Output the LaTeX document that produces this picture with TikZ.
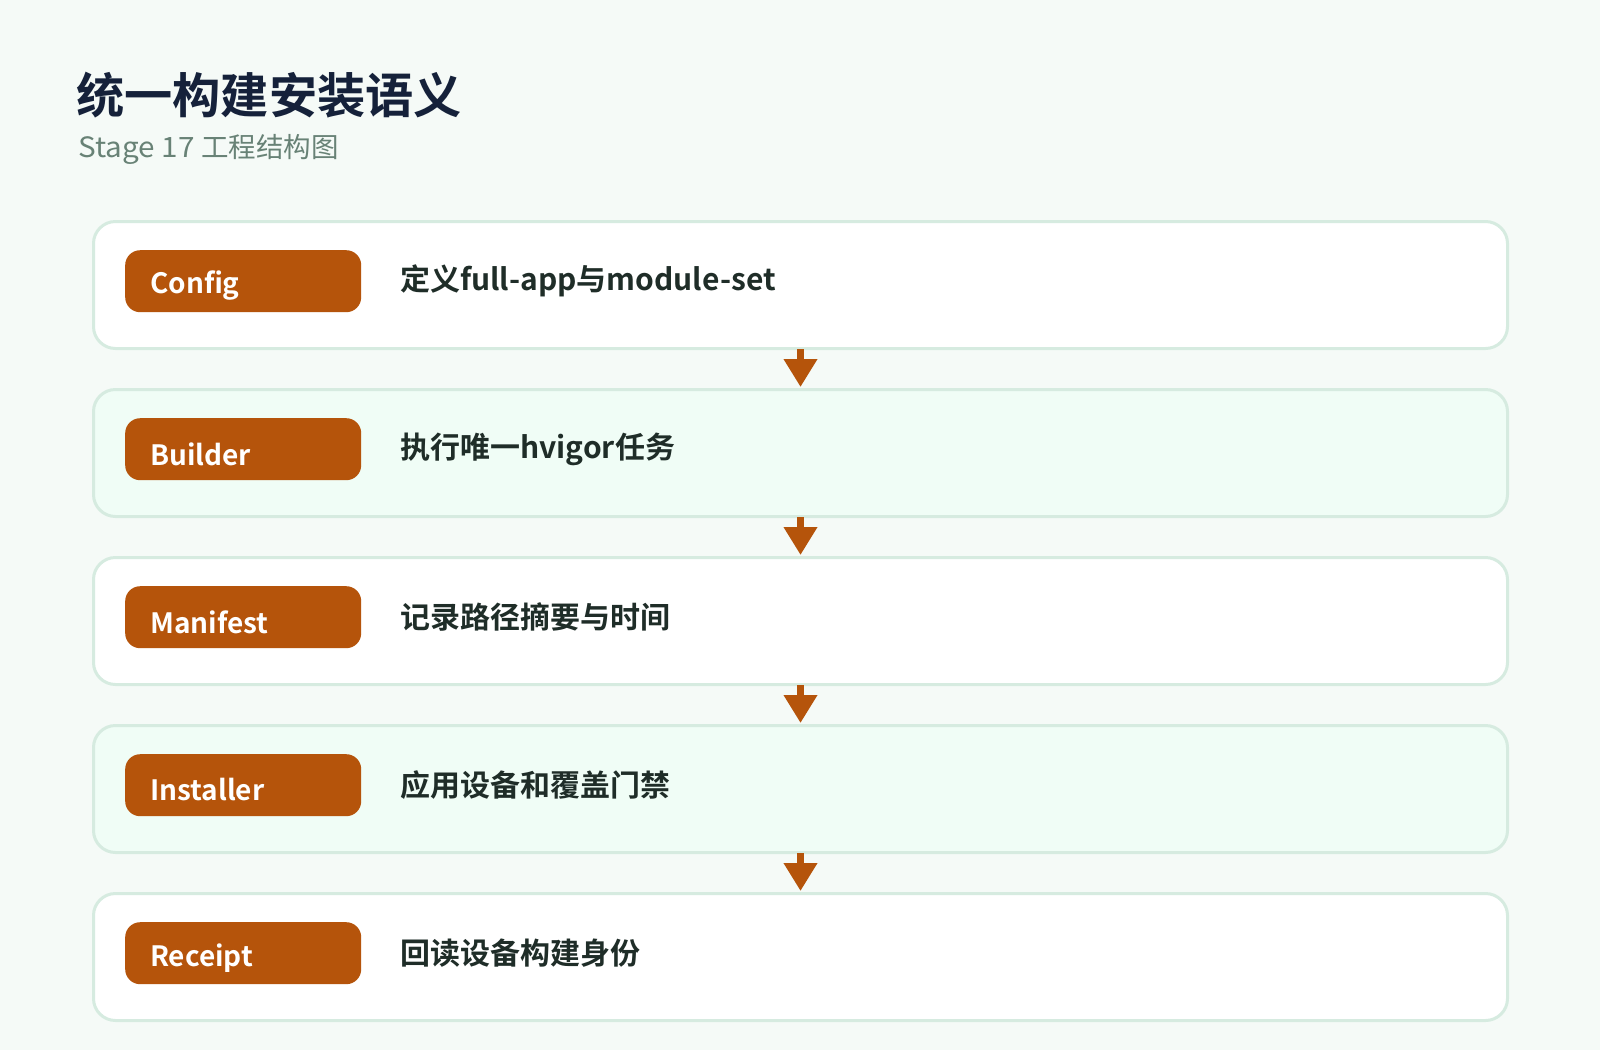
\documentclass[tikz,border=0pt]{standalone}
\usepackage{fontspec}
\setmainfont{Noto Sans CJK SC}
\newfontfamily\cjkbold{Noto Sans CJK SC Bold}
\newfontfamily\cjkreg{Noto Sans CJK SC}
\newfontfamily\latwide[FakeStretch=1.06]{Noto Sans CJK SC}
\usetikzlibrary{arrows.meta}
\definecolor{bgc}{HTML}{F5FAF7}
\definecolor{borderc}{HTML}{D6EBE0}
\definecolor{mintc}{HTML}{F0FDF6}
\definecolor{tagc}{HTML}{B5540B}
\definecolor{textc}{HTML}{1F2D28}
\definecolor{titlec}{HTML}{15213A}
\definecolor{subc}{HTML}{688276}
\tikzset{
  stagebox/.style={draw=borderc, line width=3pt, rounded corners=22pt, minimum width=1414pt, minimum height=127pt, inner sep=0pt, anchor=north west},
  tagbox/.style={fill=tagc, rounded corners=15pt, minimum width=236pt, minimum height=62pt, inner sep=0pt, anchor=north west},
  tagtext/.style={anchor=west, inner sep=0pt, text=white, font=\cjkbold\fontsize{28}{33}\selectfont},
  desctext/.style={anchor=west, inner sep=0pt, text=textc, font=\cjkbold\fontsize{30}{36}\selectfont},
  flowarrow/.style={draw=tagc, line width=7pt, -{Triangle[width=32pt,length=28pt]}, shorten <=-1pt, shorten >=1pt}
}
\begin{document}
\begin{tikzpicture}[x=1pt,y=-1pt]
\fill[bgc] (0,0) rectangle (1600,1050);
\useasboundingbox (0,0) rectangle (1600,1050);
\node[anchor=west, inner sep=0pt, text=titlec, font=\cjkbold\fontsize{48.2}{56}\selectfont] (title) at (76,95) {统一构建安装语义};
\node[anchor=west, inner sep=0pt, text=subc, font=\cjkreg\fontsize{27.5}{32}\selectfont] (subtitle) at (78,149) {{\latwide\fontsize{28}{32}\selectfont Stage 17 }工程结构图};
% boxes
\node[stagebox, fill=white] (b1) at (92,220) {};
\node[stagebox, fill=mintc] (b2) at (92,388) {};
\node[stagebox, fill=white] (b3) at (92,556) {};
\node[stagebox, fill=mintc] (b4) at (92,724) {};
\node[stagebox, fill=white] (b5) at (92,892) {};
% tags
\node[tagbox] (t1) at (125,250) {};
\node[tagbox] (t2) at (125,418) {};
\node[tagbox] (t3) at (125,586) {};
\node[tagbox] (t4) at (125,754) {};
\node[tagbox] (t5) at (125,922) {};
\node[tagtext] (l1) at (150,286) {Config};
\node[tagtext] (l2) at (150,454) {Builder};
\node[tagtext] (l3) at (150,622) {Manifest};
\node[tagtext] (l4) at (150,790) {Installer};
\node[tagtext] (l5) at (150,958) {Receipt};
% descriptions
\node[desctext] (d1) at (400,281) {定义full-app与module-set};
\node[desctext] (d2) at (400,449) {执行唯一hvigor任务};
\node[desctext] (d3) at (400,617) {记录路径摘要与时间};
\node[desctext] (d4) at (400,785) {应用设备和覆盖门禁};
\node[desctext] (d5) at (400,953) {回读设备构建身份};
% arrows
\draw[flowarrow] (b1.south) -- (b2.north);
\draw[flowarrow] (b2.south) -- (b3.north);
\draw[flowarrow] (b3.south) -- (b4.north);
\draw[flowarrow] (b4.south) -- (b5.north);
\end{tikzpicture}
\end{document}
